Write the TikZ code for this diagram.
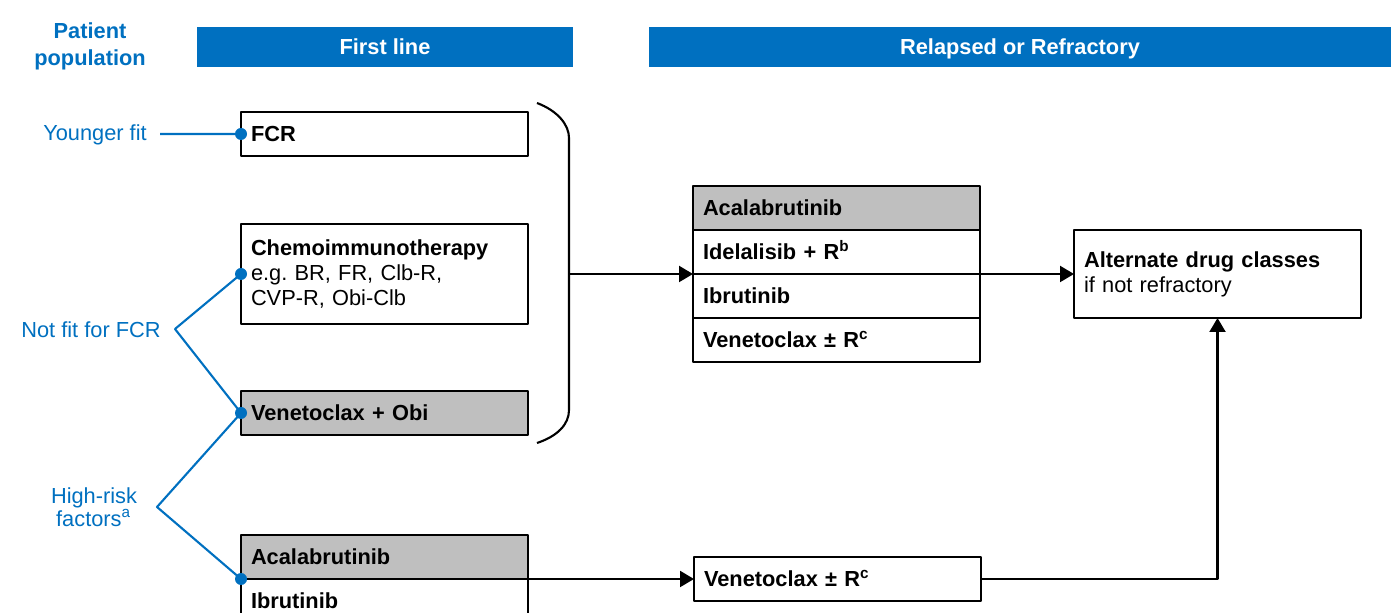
\documentclass[tikz,border=0pt]{standalone}
\usepackage{fontspec}
\setmainfont{Liberation Sans}
\usepackage{tikz}
\usetikzlibrary{positioning}
\usetikzlibrary{arrows.meta}
\definecolor{rocheblue}{HTML}{0070C0}
\definecolor{boxgrey}{HTML}{BFBFBF}
\newcommand{\diagfont}{\fontsize{6.2}{7.1}\selectfont}
\tikzset{
  drugbox/.style={draw, line width=0.6pt, rectangle, minimum width=2.87cm,
    minimum height=0.44cm, text width=2.67cm, inner xsep=0.1cm, inner ysep=0pt,
    outer sep=0pt, align=left, text height=2.0mm, text depth=0.42mm,
    font=\diagfont\bfseries},
  greybox/.style={drugbox, fill=boxgrey},
  multibox/.style={drugbox, text height={}, text depth={}},
  headbar/.style={fill=rocheblue, text=white, font=\diagfont\bfseries,
    minimum height=0.40cm, inner sep=0pt, outer sep=0pt,
    text height=2.0mm, text depth=0.42mm},
  poplabel/.style={text=rocheblue, align=center, inner sep=0pt, font=\diagfont},
  popline/.style={rocheblue, line width=0.6pt},
  pdot/.style={circle, fill=rocheblue, inner sep=0pt, minimum size=0.12cm},
  flow/.style={line width=0.6pt, -{Triangle[length=0.14cm, width=0.16cm]}},
}

\begin{document}
\begin{tikzpicture}[line join=round]
    \useasboundingbox (0,0) rectangle (13.98,-6.13);

    % Headers
    \node[poplabel, font=\diagfont\bfseries] (pop) at (0.90,-0.46) {Patient\\[0.6pt]population};
    \node[headbar, minimum width=3.76cm] (first) at (3.85,-0.47) {First line};
    \node[headbar, minimum width=7.42cm] (rr) at (10.20,-0.47) {Relapsed or Refractory};

    % First line
    \node[drugbox, anchor=north west] (fcr) at (2.41,-1.12) {FCR};
    \node[multibox, anchor=north west, minimum height=1.00cm] (chemo) at (2.41,-2.24)
        {Chemoimmunotherapy\\ \mdseries e.g.\ BR, FR, Clb-R,\\ \mdseries CVP-R, Obi-Clb};
    \node[greybox, anchor=north west] (venobi) at (2.41,-3.91) {Venetoclax + Obi};
    \node[greybox, anchor=north west] (acal) at (2.41,-5.35) {Acalabrutinib};
    \node[drugbox, below=0pt of acal] (ibru) {Ibrutinib};

    % Relapsed or refractory
    \node[greybox, anchor=north west] (racal) at (6.93,-1.86) {Acalabrutinib};
    \node[drugbox, below=0pt of racal] (ride) {Idelalisib + R\textsuperscript{b}};
    \node[drugbox, below=0pt of ride] (ribru) {Ibrutinib};
    \node[drugbox, below=0pt of ribru] (rven) {Venetoclax ± R\textsuperscript{c}};
    \node[drugbox, anchor=north west] (bven) at (6.94,-5.57) {Venetoclax ± R\textsuperscript{c}};
    \node[multibox, anchor=north west, minimum height=0.88cm] (alt) at (10.74,-2.30)
        {Alternate drug classes\\ \mdseries if not refractory};

    % Brace around first line
    \coordinate (btop) at (5.37,-1.03);
    \coordinate (bmid) at (5.69,-2.74);
    \coordinate (bbot) at (5.37,-4.43);
    \draw[line width=0.6pt] (btop) .. controls (5.58,-1.11) and (5.69,-1.25) .. (5.69,-1.38)
        -- (5.69,-4.10) .. controls (5.69,-4.24) and (5.58,-4.36) .. (bbot);

    \draw[flow] (bmid) -- (bmid -| ride.south west);
    \draw[flow] (ride.south east) -- (ride.south east -| alt.west);
    \draw[flow] (acal.south east) -- (acal.south east -| bven.west);
    \draw[flow] (bven.east |- acal.south east) -| (alt.south);

    % Patient population
    \node[poplabel] (young) at (0.95,-1.35) {Younger fit};
    \node[poplabel] (notfit) at (0.91,-3.30) {Not fit for FCR};
    \node[poplabel] (risk) at (0.94,-5.07) {High-risk\\[-0.5pt]factors\textsuperscript{a}};
    \coordinate (yfork) at (1.60,-1.34);
    \coordinate (nfork) at (1.75,-3.29);
    \coordinate (hfork) at (1.57,-5.07);

    \draw[popline] (yfork) -- (fcr.west);
    \draw[popline] (chemo.west) -- (nfork) -- (venobi.west);
    \draw[popline] (venobi.west) -- (hfork) -- (acal.south west);

    \node[pdot] at (fcr.west) {};
    \node[pdot] at (chemo.west) {};
    \node[pdot] at (venobi.west) {};
    \node[pdot] at (acal.south west) {};
\end{tikzpicture}
\end{document}
